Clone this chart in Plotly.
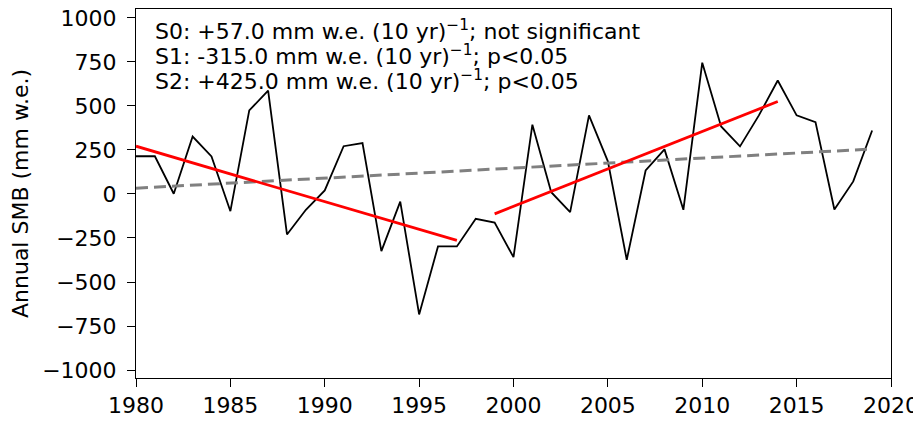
import plotly.graph_objects as go

years = list(range(1980, 2020))
smb = [214, 214, 1, 326, 213, -98, 474, 587, -230, -90,
       20, 271, 289, -325, -44, -684, -298, -298, -141, -163,
       -359, 393, 10, -103, 446, 185, -374, 133, 253, -90,
       745, 383, 270, 446, 644, 446, 408, -88, 71, 360]

s0_years = [1980, 2019]
s0_vals = [33, 255]
s1_years = [1980, 1997]
s1_vals = [271, -264]
s2_years = [1999, 2014]
s2_vals = [-113, 525]

labels = [
    "S0: +57.0 mm w.e. (10 yr)<sup>−1</sup>; not significant",
    "S1: -315.0 mm w.e. (10 yr)<sup>−1</sup>; p<0.05",
    "S2: +425.0 mm w.e. (10 yr)<sup>−1</sup>; p<0.05",
]
yticks = [-1000, -750, -500, -250, 0, 250, 500, 750, 1000]
xticks = [1980, 1985, 1990, 1995, 2000, 2005, 2010, 2015, 2020]

fig = go.Figure()
fig.add_trace(go.Scatter(x=years, y=smb, mode="lines",
                         line=dict(color="black", width=1.8)))
fig.add_trace(go.Scatter(x=s0_years, y=s0_vals, mode="lines",
                         line=dict(color="#808080", width=3, dash="12px,6px")))
fig.add_trace(go.Scatter(x=s1_years, y=s1_vals, mode="lines",
                         line=dict(color="red", width=2.8)))
fig.add_trace(go.Scatter(x=s2_years, y=s2_vals, mode="lines",
                         line=dict(color="red", width=2.8)))

# the page body adds an 8px offset on the left and top
W, H = 921, 421
ML, MR, MT, MB = 128, 38, 1, 51
plot_h = H - MT - MB
for i, t in enumerate(labels):
    fy = 22 + 25 * i
    fig.add_annotation(xref="paper", yref="paper", x=0.023,
                       y=(H - MB - fy) / plot_h,
                       xanchor="left", yanchor="middle", showarrow=False, text=t,
                       font=dict(family="DejaVu Sans", size=22, color="black"))

fig.update_layout(
    width=W, height=H, showlegend=False,
    paper_bgcolor="white", plot_bgcolor="white",
    margin=dict(l=ML, r=MR, t=MT, b=MB),
    font=dict(family="DejaVu Sans", size=22, color="black"),
)
fig.update_xaxes(range=[1980, 2020], tickvals=xticks, ticks="outside", ticklen=8,
                 tickcolor="black", showgrid=False, zeroline=False, automargin=False,
                 ticklabelstandoff=0, ticklabeloverflow="allow",
                 showline=True, linecolor="black", linewidth=1, mirror=True)
fig.update_yaxes(range=[-1045, 1050], tickvals=yticks, ticks="outside", ticklen=8,
                 tickcolor="black", showgrid=False, zeroline=False, automargin=False,
                 ticklabelstandoff=6, ticklabeloverflow="allow",
                 showline=True, linecolor="black", linewidth=1, mirror=True,
                 title=dict(text="Annual SMB (mm w.e.)", standoff=8,
                            font=dict(family="DejaVu Sans", size=22)))

fig.write_html("out.html")
